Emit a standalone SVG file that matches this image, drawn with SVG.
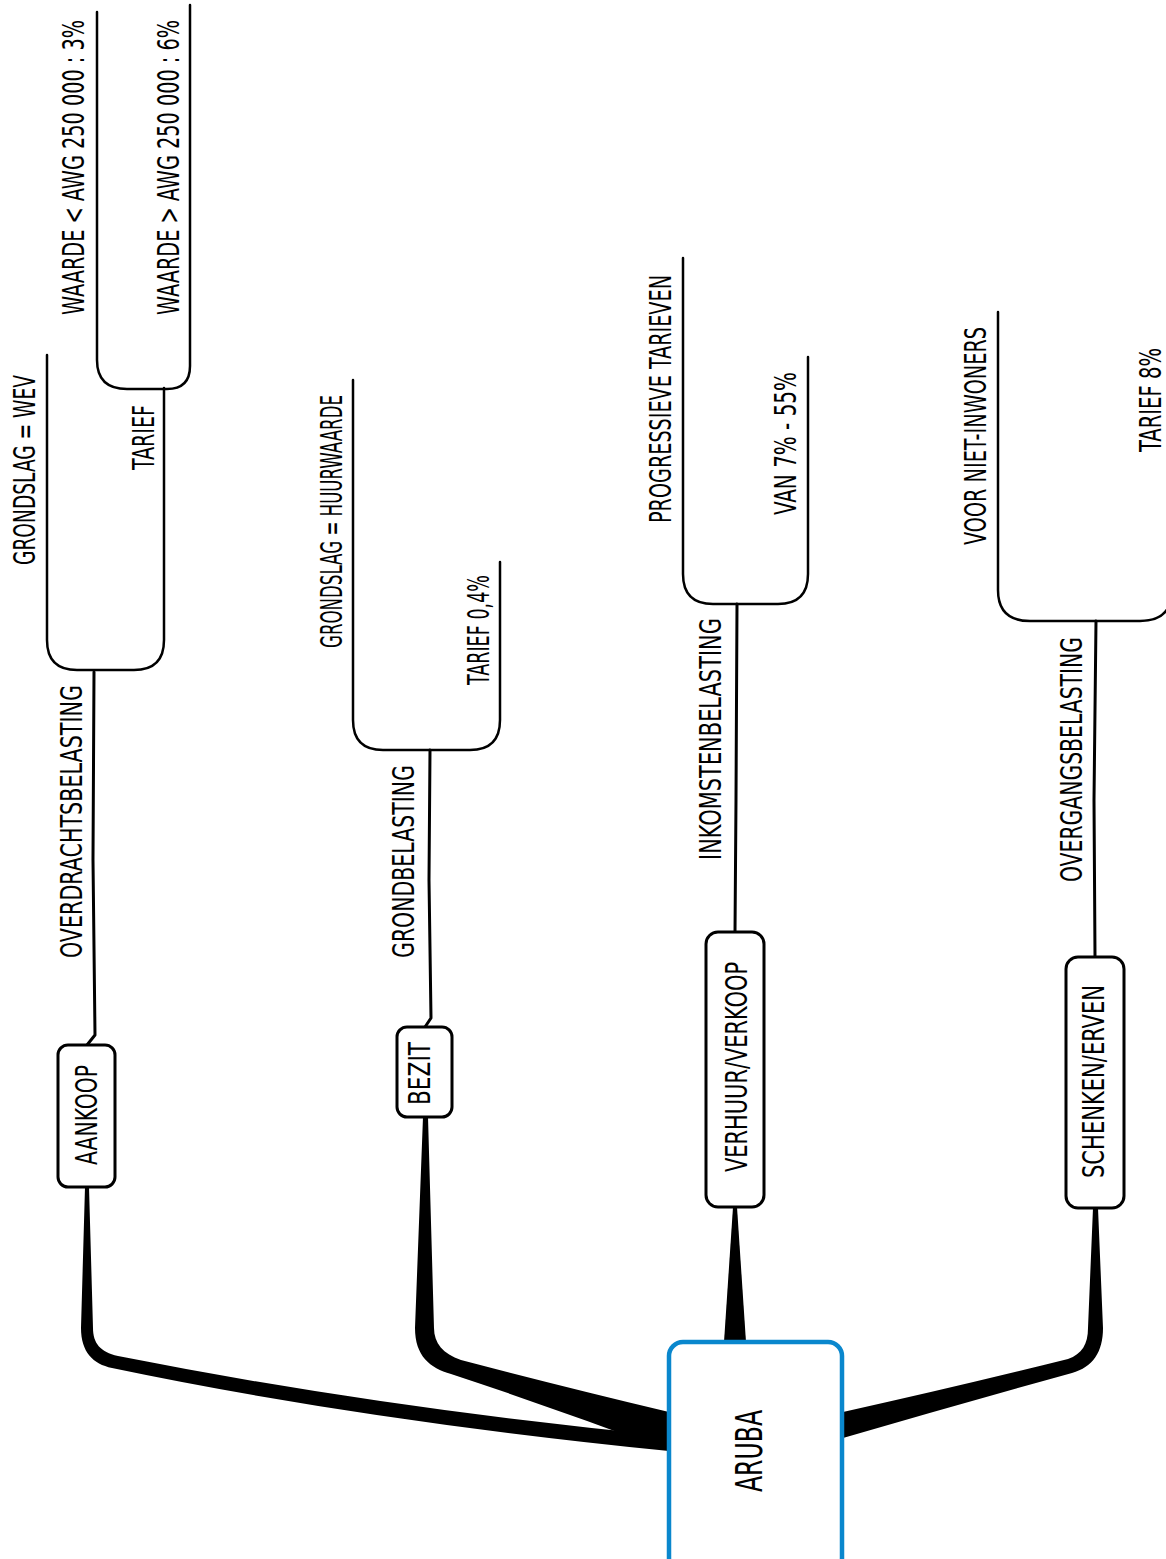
<svg xmlns="http://www.w3.org/2000/svg" width="1166" height="1559" viewBox="0 0 1166 1559">
<style>
.t{font-family:"DejaVu Sans Condensed","DejaVu Sans",sans-serif;font-size:30px;fill:#000;}
.tc{font-family:"DejaVu Sans Condensed","DejaVu Sans",sans-serif;font-size:38px;fill:#000;}
.box{fill:#fff;stroke:#000;stroke-width:3;}
.ln{fill:none;stroke:#000;stroke-width:3;stroke-linecap:round;stroke-linejoin:round;}
.br{fill:none;stroke:#000;stroke-width:2.5;stroke-linecap:round;stroke-linejoin:round;}
.thick{fill:#000;stroke:none;}
</style>
<rect width="1166" height="1559" fill="#fff"/>
<g id="connectors">
  <path class="thick" d="M85 1187 L81 1328 C81 1352 93 1364 112 1368 Q360 1420 669 1451 L669 1436 Q380 1408 118 1356 C100 1352 93 1343 93 1328 L89 1187 Z"/>
  <path class="thick" d="M423 1117 L415 1328 C415 1356 430 1368 451 1374 Q560 1410 669 1451 L669 1412 Q560 1386 461 1360 C443 1354 434 1343 434 1328 L428 1117 Z"/>
  <path class="thick" d="M733 1207 L737 1207 L746 1342 L724 1342 Z"/>
  <path class="thick" d="M1093 1208 L1088 1328 C1088 1344 1082 1354 1068 1359 Q960 1386 843 1412 L843 1438 Q960 1404 1072 1373 C1093 1367 1103 1352 1103 1328 L1098 1208 Z"/>
  <path class="ln" d="M87 1045 L95 1035 L93 860 L94 672"/>
  <path class="ln" d="M425 1027 L431 1018 L429 880 L430 750"/>
  <path class="ln" d="M735 932 L736 800 L737 604"/>
  <path class="ln" d="M1095 957 L1094 800 L1096 621"/>
  <path class="br" d="M47 355 L47 640 Q47 670 77 670 L134 670 Q164 670 164 640 L164 388"/>
  <path class="br" d="M97 12 L97 360 Q97 389 127 389 L167 389 Q190 389 190 366 L190 5"/>
  <path class="br" d="M353 380 L353 720 Q353 750 383 750 L470 750 Q500 750 500 720 L500 562"/>
  <path class="br" d="M683 258 L683 574 Q683 604 713 604 L778 604 Q808 604 808 574 L808 357"/>
  <path class="br" d="M998 312 L998 590 Q998 621 1030 621 L1140 621 Q1172 621 1172 590 L1172 357"/>
</g>
<g id="aruba">
  <rect x="669" y="1342" width="173" height="230" rx="14" fill="#fff" stroke="#0A87CD" stroke-width="4.5"/>
  <text class="tc" transform="translate(762 1492) rotate(-90)" textLength="82" lengthAdjust="spacingAndGlyphs">ARUBA</text>
</g>
<g id="aankoop">
  <rect class="box" x="58" y="1045" width="57" height="142" rx="10"/>
  <text class="t" transform="translate(97 1165) rotate(-90)" textLength="100" lengthAdjust="spacingAndGlyphs">AANKOOP</text>
</g>
<g id="overdrachtsbelasting">
  <text class="t" transform="translate(82 958) rotate(-90)" textLength="273" lengthAdjust="spacingAndGlyphs">OVERDRACHTSBELASTING</text>
</g>
<g id="grondslag-wev">
  <text class="t" transform="translate(35 565) rotate(-90)" textLength="190" lengthAdjust="spacingAndGlyphs">GRONDSLAG = WEV</text>
</g>
<g id="tarief">
  <text class="t" transform="translate(154 470) rotate(-90)" textLength="65" lengthAdjust="spacingAndGlyphs">TARIEF</text>
</g>
<g id="waarde-lt">
  <text class="t" transform="translate(84 315) rotate(-90) scale(0.68 1)" textLength="434" lengthAdjust="spacingAndGlyphs">WAARDE &lt; AWG 250 000 : 3%</text>
</g>
<g id="waarde-gt">
  <text class="t" transform="translate(179 315) rotate(-90) scale(0.68 1)" textLength="434" lengthAdjust="spacingAndGlyphs">WAARDE &gt; AWG 250 000 : 6%</text>
</g>
<g id="bezit">
  <rect class="box" x="397" y="1027" width="55" height="90" rx="10"/>
  <text class="t" transform="translate(430 1105) rotate(-90)" textLength="63" lengthAdjust="spacingAndGlyphs">BEZIT</text>
</g>
<g id="grondbelasting">
  <text class="t" transform="translate(414 958) rotate(-90)" textLength="193" lengthAdjust="spacingAndGlyphs">GRONDBELASTING</text>
</g>
<g id="grondslag-huurwaarde">
  <text class="t" transform="translate(342 648) rotate(-90)" textLength="253" lengthAdjust="spacingAndGlyphs">GRONDSLAG = HUURWAARDE</text>
</g>
<g id="tarief-04">
  <text class="t" transform="translate(489 685) rotate(-90)" textLength="110" lengthAdjust="spacingAndGlyphs">TARIEF 0,4%</text>
</g>
<g id="verhuur-verkoop">
  <rect class="box" x="706" y="932" width="58" height="275" rx="12"/>
  <text class="t" transform="translate(747 1172) rotate(-90)" textLength="210" lengthAdjust="spacingAndGlyphs">VERHUUR/VERKOOP</text>
</g>
<g id="inkomstenbelasting">
  <text class="t" transform="translate(721 860) rotate(-90)" textLength="242" lengthAdjust="spacingAndGlyphs">INKOMSTENBELASTING</text>
</g>
<g id="progressieve-tarieven">
  <text class="t" transform="translate(671 523) rotate(-90)" textLength="248" lengthAdjust="spacingAndGlyphs">PROGRESSIEVE TARIEVEN</text>
</g>
<g id="van-7-55">
  <text class="t" transform="translate(796 515) rotate(-90)" textLength="143" lengthAdjust="spacingAndGlyphs">VAN 7% - 55%</text>
</g>
<g id="schenken-erven">
  <rect class="box" x="1066" y="957" width="58" height="251" rx="12"/>
  <text class="t" transform="translate(1104 1178) rotate(-90)" textLength="193" lengthAdjust="spacingAndGlyphs">SCHENKEN/ERVEN</text>
</g>
<g id="overgangsbelasting">
  <text class="t" transform="translate(1082 882) rotate(-90)" textLength="245" lengthAdjust="spacingAndGlyphs">OVERGANGSBELASTING</text>
</g>
<g id="voor-niet-inwoners">
  <text class="t" transform="translate(986 545) rotate(-90)" textLength="218" lengthAdjust="spacingAndGlyphs">VOOR NIET-INWONERS</text>
</g>
<g id="tarief-8">
  <text class="t" transform="translate(1161 452) rotate(-90)" textLength="104" lengthAdjust="spacingAndGlyphs">TARIEF 8%</text>
</g>
</svg>
